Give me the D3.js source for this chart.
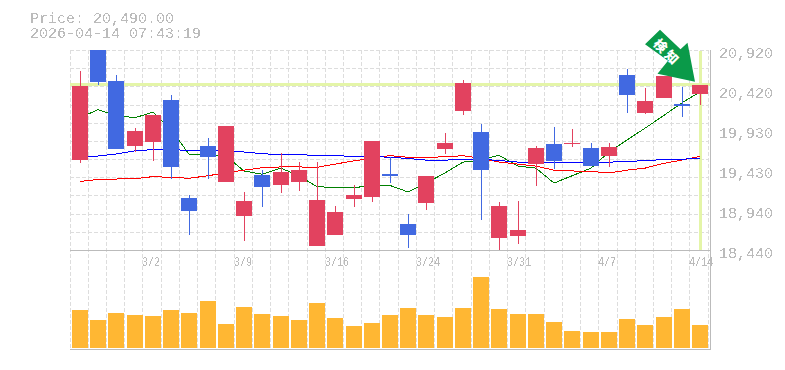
<!DOCTYPE html>
<html>
<head>
<meta charset="utf-8">
<script src="https://cdn.jsdelivr.net/npm/d3@7"></script>
<style>
html, body { margin: 0; padding: 0; background: #fff; overflow: hidden; }
text { font-family: "Liberation Mono", monospace; font-size: 15px; fill: #bbb; }
</style>
</head>
<body>
<svg id="chart" width="785" height="370"></svg>
<script>
const priceLabel = "Price: 20,490.00"
const timeLabel = "2026-04-14 07:43:19"
const lastPrice = 20490
const priceTicks = [20920, 20424, 19928, 19432, 18936, 18440]
const priceTickLabels = ["20,920", "20,420", "19,930", "19,430", "18,940", "18,440"]
const dateLabels = [[4, "3/2"], [9, "3/9"], [14, "3/16"], [19, "3/24"], [24, "3/31"], [29, "4/7"], [34, "4/14"]]

const opens = [19560, 21000, 20540, 19730, 19780, 20300, 19085, 19730, 19280, 18860, 19370, 19250,
    19280, 18490, 18630, 19070, 19100, 19380, 18760, 19020, 19690, 20160, 19900, 18590,
    18610, 19505, 19755, 19755, 19705, 19605, 20610, 20140, 20325, 20250, 20375]
const highs = [20660, 21050, 20610, 19950, 20110, 20360, 19120, 19830, 19980, 19160, 19430, 19640,
    19530, 19530, 18990, 19250, 19790, 19590, 18890, 19360, 19890, 20550, 20000, 19035,
    19050, 19730, 19965, 19940, 19770, 19770, 20685, 20450, 20600, 20460, 20490]
const lows = [19520, 20490, 19690, 19660, 19540, 19320, 18630, 19320, 19280, 18550, 18970, 19150,
    19170, 18490, 18630, 18970, 19035, 19270, 18465, 18940, 19630, 20110, 18810, 18430,
    18515, 19235, 19445, 19715, 19480, 19470, 20140, 20125, 20325, 20090, 20240]
const closes = [20470, 20520, 19690, 19920, 20110, 19470, 18920, 19590, 19980, 19050, 19220, 19410,
    19430, 19060, 18910, 19120, 19790, 19360, 18630, 19360, 19770, 20510, 19430, 18990,
    18690, 19705, 19540, 19770, 19480, 19715, 20360, 20290, 20600, 20225, 20490]
const volumes = [38, 28, 35, 33, 32, 38, 35, 47, 24, 41, 34, 32, 28, 45, 30, 22, 25, 33,
    40, 33, 31, 40, 71, 39, 34, 34, 26, 17, 16, 16, 29, 23, 31, 39, 23]

const maShort = [20080, 20180, 20110, 20080, 20150, 19930, 19630, 19620, 19605, 19420, 19380, 19455,
    19360, 19225, 19215, 19215, 19235, 19240, 19160, 19270, 19395, 19530, 19555, 19615,
    19480, 19455, 19270, 19360, 19455, 19655, 19805, 19950, 20110, 20265, 20400]
const maMid = [19590, 19605, 19630, 19670, 19685, 19690, 19670, 19670, 19670, 19655, 19635, 19620,
    19620, 19615, 19610, 19600, 19600, 19590, 19575, 19555, 19555, 19560, 19565, 19550,
    19530, 19525, 19525, 19525, 19530, 19530, 19535, 19550, 19560, 19565, 19580]
const maLong = [19290, 19315, 19320, 19325, 19350, 19340, 19330, 19360, 19400, 19430, 19460, 19470,
    19470, 19465, 19505, 19545, 19580, 19610, 19590, 19590, 19595, 19610, 19575, 19530,
    19505, 19480, 19430, 19420, 19415, 19395, 19430, 19455, 19515, 19555, 19600]

const pxL = 70.88, pxR = 709.11, pxT = 50, pxM = 250, pxB = 349
const upColor = "#e2425f", downColor = "#4169e1"
const axisColor = "#bbb", gridColor = "#ddd", markColor = "#e4f5a8"

const svg = d3.select("#chart")
const days = d3.range(opens.length)

const scX = d3.scaleBand().domain(days).range([pxL, pxR])
const scY = d3.scaleLinear().domain([18440, 20920]).range([pxM, pxT])
const scV = d3.scaleLinear().domain([0, 100]).range([pxB - 1, pxB - 101])
const center = i => Math.round(scX(i) + scX.bandwidth() / 2)
// left edge of a day's cell, where the grid and date labels sit
const edge = i => Math.floor(70 + i * scX.bandwidth())

let crisp = g => g.attr("shape-rendering", "crispEdges")

// grid
let grid = svg.append("g").call(crisp)
    .attr("stroke", gridColor).attr("stroke-dasharray", "4,2")
grid.selectAll(".v").data(d3.range(opens.length + 1)).enter().append("line")
    .attr("x1", d => edge(d) + 0.5)
    .attr("x2", d => edge(d) + 0.5)
    .attr("y1", pxT).attr("y2", pxB)
grid.selectAll(".h").data(d3.range(12)).enter().append("line")
    .attr("x1", edge(0)).attr("x2", edge(35))
    .attr("y1", d => Math.round(pxT + d * (pxM - pxT) / 11) + 0.5)
    .attr("y2", d => Math.round(pxT + d * (pxM - pxT) / 11) + 0.5)

// last price cross
let mark = svg.append("g").call(crisp).attr("stroke", markColor).attr("stroke-width", 3)
mark.append("line").attr("x1", edge(0)).attr("x2", edge(35) + 2)
    .attr("y1", scY(lastPrice)).attr("y2", scY(lastPrice))
mark.append("line").attr("x1", center(34) + 0.5).attr("x2", center(34) + 0.5)
    .attr("y1", pxT + 1).attr("y2", pxM)

// axes frame
let frame = svg.append("g").call(crisp).attr("stroke", axisColor)
frame.append("line").attr("x1", edge(0)).attr("x2", edge(35) + 3).attr("y1", pxM + 0.5).attr("y2", pxM + 0.5)
frame.append("line").attr("x1", edge(0)).attr("x2", edge(35) + 3).attr("y1", pxB + 0.5).attr("y2", pxB + 0.5)
frame.append("line").attr("x1", edge(35) + 2.5).attr("x2", edge(35) + 2.5).attr("y1", pxT).attr("y2", pxB + 1)

// moving averages, under the candles
let drawMa = function (values, color) {
    let lnMkr = d3.line().x((d, i) => center(i)).y(d => scY(d))
    svg.append("path").call(crisp)
        .attr("fill", "none").attr("stroke", color).attr("stroke-width", 1)
        .attr("d", lnMkr(values))
}
drawMa(maShort, "#008000")
drawMa(maLong, "#ff0000")
drawMa(maMid, "#0000ff")

let defs = svg.append("defs")
defs.append("clipPath").attr("id", "plot").append("rect")
    .attr("x", pxL).attr("y", pxT).attr("width", pxR - pxL).attr("height", pxM - pxT)
// hard edged text, the original has no smoothing
defs.append("filter").attr("id", "hard")
    .append("feComponentTransfer")
    .append("feFuncA").attr("type", "discrete").attr("tableValues", "0 1")

// candles
let candles = svg.append("g").call(crisp).attr("clip-path", "url(#plot)")
let colorOf = i => closes[i] >= opens[i] ? upColor : downColor
candles.selectAll("line").data(days).enter().append("line")
    .attr("x1", d => center(d) + 0.5).attr("x2", d => center(d) + 0.5)
    .attr("y1", d => scY(highs[d])).attr("y2", d => scY(lows[d]))
    .attr("stroke", colorOf)
candles.selectAll("rect").data(days).enter().append("rect")
    .attr("x", d => center(d) - 8).attr("width", 16)
    .attr("y", d => scY(Math.max(opens[d], closes[d])))
    .attr("height", d => Math.max(1, scY(Math.min(opens[d], closes[d])) - scY(Math.max(opens[d], closes[d]))))
    .attr("fill", colorOf)

// volume
svg.append("g").call(crisp).selectAll("rect").data(days).enter().append("rect")
    .attr("x", d => center(d) - 8).attr("width", 16)
    .attr("y", d => scV(volumes[d]))
    .attr("height", d => scV(0) - scV(volumes[d]))
    .attr("fill", "#ffb733")

// signal arrow hangs off the last candle
let arrow = svg.append("g")
    .attr("transform", `translate(${center(34)},${scY(highs[34])})`)
arrow.append("path").attr("fill", "#0a9a49")
    .attr("d", "M-40,-55 L-55,-40.5 L-32,-24 L-42.5,-11 L-5,-3 L-12.5,-42 L-19.5,-35.5 Z")
arrow.append("text").text("検知")
    .attr("transform", "translate(-33,-32) rotate(45)")
    .attr("text-anchor", "middle").attr("dy", "0.35em")
    .style("font-family", "'Noto Sans CJK JP'").style("font-weight", "900")
    .style("font-size", "13px").style("letter-spacing", "3px").style("fill", "#fff")

// text
let labels = svg.append("g").attr("filter", "url(#hard)")
labels.append("text").text(priceLabel).attr("x", 30).attr("y", 23)
labels.append("text").text(timeLabel).attr("x", 30).attr("y", 38)
labels.selectAll(".ptick").data(priceTicks).enter().append("text")
    .attr("x", 719).attr("y", d => scY(d) + 8)
    .text((d, i) => priceTickLabels[i])
labels.selectAll(".dtick").data(dateLabels).enter().append("text")
    .attr("x", d => edge(d[0])).attr("y", 266)
    .attr("textLength", d => d[1].length * 6).attr("lengthAdjust", "spacingAndGlyphs")
    .style("font-size", "13px")
    .text(d => d[1])
</script>
</body>
</html>
